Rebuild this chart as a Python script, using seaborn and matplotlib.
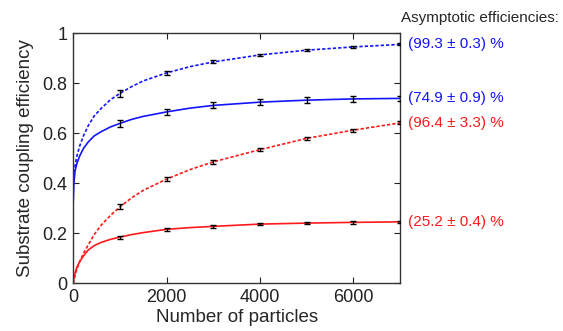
import numpy as np
import pandas as pd
import matplotlib
matplotlib.use('Agg')
import matplotlib.pyplot as plt
import seaborn as sns

sns.set_style('ticks')
plt.rcParams['font.family'] = ['Liberation Sans', 'DejaVu Sans']

# measured points (number of particles) with error bars
n_particles = [1000, 2000, 3000, 4000, 5000, 6000, 7000]
blue_dash_y = [0.760, 0.842, 0.886, 0.914, 0.933, 0.946, 0.956]
blue_dash_err = [0.015, 0.009, 0.006, 0.005, 0.004, 0.004, 0.004]
blue_solid_y = [0.640, 0.686, 0.712, 0.725, 0.733, 0.738, 0.740]
blue_solid_err = [0.014, 0.012, 0.012, 0.012, 0.011, 0.011, 0.011]
red_dash_y = [0.306, 0.417, 0.486, 0.535, 0.580, 0.613, 0.642]
red_dash_err = [0.010, 0.009, 0.007, 0.006, 0.006, 0.006, 0.006]
red_solid_y = [0.185, 0.216, 0.228, 0.237, 0.241, 0.244, 0.246]
red_solid_err = [0.006, 0.005, 0.005, 0.005, 0.005, 0.005, 0.005]

# fitted curves
fit_x = [0, 15, 40, 80, 140, 220, 320, 450, 600, 800, 1000, 1250, 1500, 2000,
         2500, 3000, 4000, 5000, 6000, 7000]
blue_dash_fit = [0.40, 0.44, 0.47, 0.51, 0.55, 0.59, 0.63, 0.67, 0.70, 0.735,
                 0.760, 0.787, 0.810, 0.842, 0.867, 0.886, 0.914, 0.933, 0.946, 0.956]
blue_solid_fit = [0.32, 0.40, 0.45, 0.48, 0.51, 0.54, 0.565, 0.59, 0.607, 0.626,
                  0.640, 0.656, 0.668, 0.686, 0.701, 0.712, 0.725, 0.733, 0.738, 0.740]
red_dash_fit = [0.0, 0.012, 0.030, 0.058, 0.087, 0.120, 0.153, 0.195, 0.233, 0.272,
                0.306, 0.342, 0.372, 0.417, 0.455, 0.486, 0.535, 0.580, 0.613, 0.642]
red_solid_fit = [0.0, 0.022, 0.042, 0.065, 0.087, 0.110, 0.133, 0.151, 0.164, 0.176,
                 0.185, 0.195, 0.203, 0.216, 0.223, 0.228, 0.237, 0.241, 0.244, 0.246]

labels = ['(99.3 \u00b1 0.3) %', '(74.9 \u00b1 0.9) %', '(96.4 \u00b1 3.3) %', '(25.2 \u00b1 0.4) %']

BLUE = '#1414ff'
RED = '#ff1a1a'

fig = plt.figure(figsize=(5.63, 3.31), dpi=100)
ax = fig.add_axes([0.13, 0.144, 0.5805, 0.755])

series = [
    (blue_dash_fit, blue_dash_y, blue_dash_err, BLUE, (2, 1.2)),
    (blue_solid_fit, blue_solid_y, blue_solid_err, BLUE, ''),
    (red_dash_fit, red_dash_y, red_dash_err, RED, (2, 1.2)),
    (red_solid_fit, red_solid_y, red_solid_err, RED, ''),
]

for fit, y, err, col, dash in series:
    df = pd.DataFrame({'x': fit_x, 'y': fit})
    sns.lineplot(data=df, x='x', y='y', ax=ax, color=col, lw=1.2)
    if dash:
        ax.lines[-1].set_dashes(dash)
    ax.errorbar(n_particles, y, yerr=err, fmt='none', ecolor='black',
                elinewidth=1.0, capsize=2.5, capthick=1.0, zorder=5)

for lab, fit, (_, _, _, col, _) in zip(labels, [blue_dash_fit, blue_solid_fit,
                                              red_dash_fit, red_solid_fit], series):
    ax.text(1.025, fit[-1], lab, color=col, fontsize=11, va='center', ha='left',
            transform=ax.get_yaxis_transform(), clip_on=False)

fig.text(0.712, 0.945, 'Asymptotic efficiencies:', fontsize=11, va='center', ha='left')

ax.set_xlim(0, 7000)
ax.set_ylim(0, 1)
ax.set_xticks([0, 2000, 4000, 6000])
ax.set_yticks([0, 0.2, 0.4, 0.6, 0.8, 1])
ax.set_yticklabels(['0', '0.2', '0.4', '0.6', '0.8', '1'])
ax.tick_params(direction='in', top=True, right=True, length=4, width=0.8,
               labelsize=13, colors='#222222', pad=4)
for s in ax.spines.values():
    s.set_linewidth(1.0)
    s.set_color('#333333')
ax.set_xlabel('Number of particles', fontsize=13.5, labelpad=2)
ax.set_ylabel('Substrate coupling efficiency', fontsize=13.5, labelpad=6)

fig.savefig('out.png', dpi=100)
